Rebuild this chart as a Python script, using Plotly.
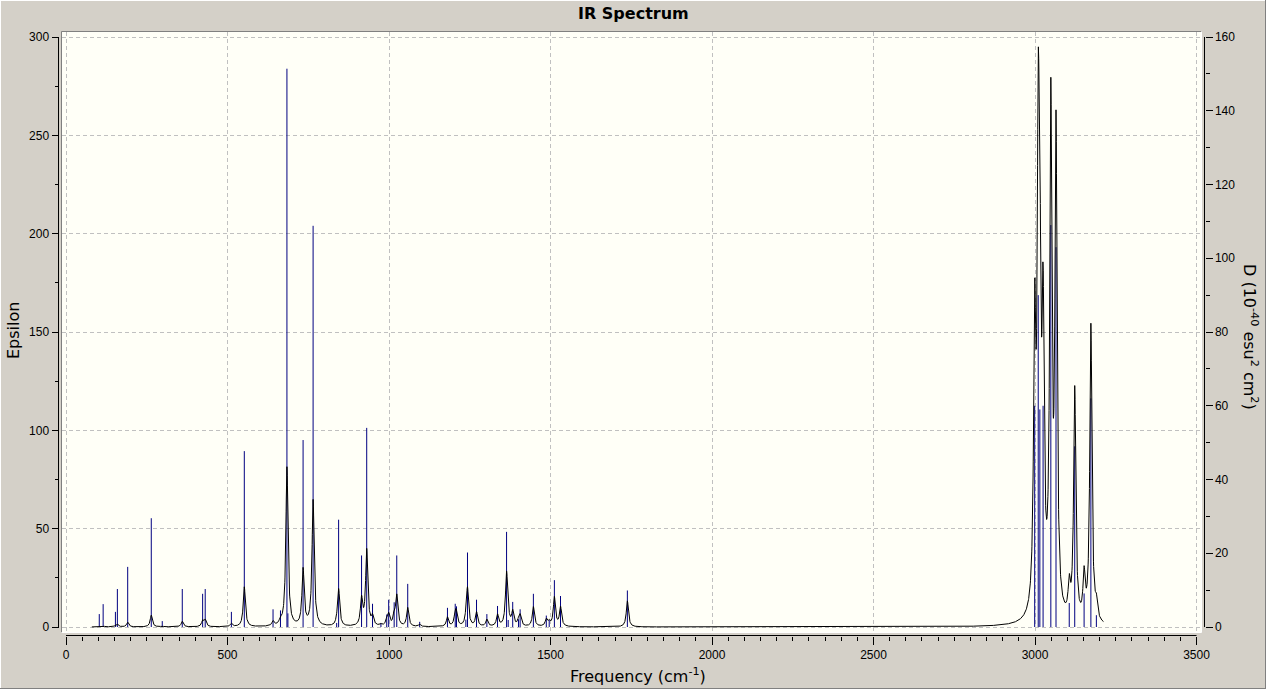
import numpy as np
import plotly.graph_objects as go

# ---------------- data ----------------
# stick spectrum: frequency (cm^-1) and dipole strength D (10^-40 esu^2 cm^2)
freqs = [103, 115, 153, 159, 191, 264, 298, 360, 423, 431, 512, 552,
         641, 664, 684, 687, 734, 765, 838, 844, 915, 931, 949, 975,
         993, 999, 1016, 1024, 1058, 1095, 1181, 1205, 1209, 1238, 1243, 1271,
         1303, 1336, 1364, 1369, 1383, 1401, 1406, 1447, 1487, 1496, 1512, 1531,
         1738,
         2999, 3010, 3015, 3025, 3049, 3065, 3106, 3123, 3152, 3173, 3190]
dipole = [3.5, 6.2, 4.1, 10.3, 16.3, 29.5, 1.6, 10.3, 9.0, 10.3, 4.1, 47.7,
          4.8, 4.5, 151.4, 3.7, 50.7, 108.8, 1.1, 29.1, 19.4, 54.0, 6.3, 1.1,
          3.4, 7.4, 6.7, 19.4, 11.7, 1.4, 5.2, 6.3, 5.6, 2.0, 20.2, 7.4,
          3.5, 5.7, 25.8, 1.9, 6.8, 2.1, 4.8, 9.0, 3.1, 1.9, 12.7, 8.4,
          9.9,
          60.0, 90.0, 59.0, 60.0, 109.0, 103.0, 6.5, 49.0, 9.1, 62.0, 3.2]

# Epsilon curve = Lorentzian broadening of the sticks (as the spectrum program draws it)
half_width = 4.0          # cm^-1, half width at half height
eps_per_nuD = 7.7e-4      # epsilon per (frequency * D)
curve_start, curve_end = 80.0, 3212.0

x_ticks = [0, 500, 1000, 1500, 2000, 2500, 3000, 3500]
eps_ticks = [0, 50, 100, 150, 200, 250, 300]
d_ticks = [0, 20, 40, 60, 80, 100, 120, 140, 160]

# ---------------- derived ----------------
nu = np.arange(curve_start, curve_end + 0.25, 0.5)
f_arr = np.array(freqs)
d_arr = np.array(dipole)
eps = (eps_per_nuD * f_arr * d_arr *
       half_width**2 / ((nu[:, None] - f_arr[None, :])**2 + half_width**2)).sum(axis=1)

stick_x, stick_y = [], []
for f, d in zip(freqs, dipole):
    stick_x += [f, f, None]
    stick_y += [0, d, None]

# ---------------- layout geometry (pixels) ----------------
W, H = 1266, 689
plot_l, plot_r, plot_t, plot_b = 62, 1201, 32, 632
x_zero_px, x_3500_px = 66.0, 1196.5
y_zero_px, y_300_px = 627.0, 37.0
kx = (x_3500_px - x_zero_px) / 3500.0
ky = (y_zero_px - y_300_px) / 300.0
xr = [(plot_l - x_zero_px) / kx, (plot_r - x_zero_px) / kx]
er = [(y_zero_px - plot_b) / ky, (y_zero_px - plot_t) / ky]
dr = [v * 160.0 / 300.0 for v in er]

def px(p):
    return p / W

def py(p):
    return (H - p) / H

TICKFONT = "Liberation Sans, Arial, sans-serif"
TITLEFONT = "DejaVu Sans, Verdana, sans-serif"
GRID = "#c0c0c0"

fig = go.Figure()
fig.add_trace(go.Scatter(x=stick_x, y=stick_y, mode="lines",
                         line=dict(color="#000080", width=1),
                         xaxis="x", yaxis="y", hoverinfo="skip", showlegend=False))
fig.add_trace(go.Scatter(x=nu, y=eps, mode="lines",
                         line=dict(color="black", width=1),
                         xaxis="x", yaxis="y2", hoverinfo="skip", showlegend=False))

fig.update_layout(
    width=W, height=H, autosize=False,
    margin=dict(l=0, r=0, t=0, b=0, pad=0),
    paper_bgcolor="#d4d0c8", plot_bgcolor="#fffff7",
    font=dict(family=TICKFONT, size=12, color="black"),
    showlegend=False,
    xaxis=dict(domain=[px(plot_l), px(plot_r)], range=xr, anchor="free",
               position=py(635.5), showline=False, zeroline=False, automargin=False,
               tickmode="array", tickvals=x_ticks, ticks="outside",
               ticklen=8, tickwidth=1, tickcolor="black",
               minor=dict(dtick=50, tick0=0, ticks="outside", ticklen=4,
                          tickwidth=1, tickcolor="black", showgrid=False),
               showgrid=True, gridcolor=GRID, griddash="4px,3px", gridwidth=1,
               tickfont=dict(size=12, family=TICKFONT)),
    yaxis=dict(domain=[py(plot_b), py(plot_t)], range=dr, anchor="free",
               position=px(1204.5), side="right", showline=False, zeroline=False,
               automargin=False,
               tickmode="array", tickvals=d_ticks, ticks="outside",
               ticklen=7, tickwidth=1, tickcolor="black",
               minor=dict(dtick=10, tick0=0, ticks="outside", ticklen=4,
                          tickwidth=1, tickcolor="black", showgrid=False),
               showgrid=False, tickfont=dict(size=12, family=TICKFONT)),
    yaxis2=dict(range=er, overlaying="y", anchor="free", position=px(58.5),
                side="left", showline=False, zeroline=False, automargin=False,
                tickmode="array", tickvals=eps_ticks, ticks="outside",
                ticklen=7, tickwidth=1, tickcolor="black",
                minor=dict(dtick=25, tick0=0, ticks="outside", ticklen=4,
                           tickwidth=1, tickcolor="black", showgrid=False),
                showgrid=True, gridcolor=GRID, griddash="4px,3px", gridwidth=1,
                tickfont=dict(size=12, family=TICKFONT)),
)

shapes = [
    # plot-area sunken border
    dict(type="line", xref="paper", yref="paper", x0=px(plot_l - 0.5), x1=px(plot_r + 0.5),
         y0=py(plot_t - 0.5), y1=py(plot_t - 0.5), line=dict(color="#808080", width=1)),
    dict(type="line", xref="paper", yref="paper", x0=px(plot_l - 0.5), x1=px(plot_l - 0.5),
         y0=py(plot_t - 0.5), y1=py(plot_b + 0.5), line=dict(color="#808080", width=1)),
    dict(type="line", xref="paper", yref="paper", x0=px(plot_r + 0.5), x1=px(plot_r + 0.5),
         y0=py(plot_t - 0.5), y1=py(plot_b + 0.5), line=dict(color="#ffffff", width=1)),
    dict(type="line", xref="paper", yref="paper", x0=px(plot_l - 0.5), x1=px(plot_r + 0.5),
         y0=py(plot_b + 0.5), y1=py(plot_b + 0.5), line=dict(color="#ffffff", width=1)),
    # axis lines spanning the tick range only
    dict(type="line", xref="paper", yref="y2", x0=px(58.5), x1=px(58.5),
         y0=0, y1=300, line=dict(color="black", width=1)),
    dict(type="line", xref="paper", yref="y", x0=px(1204.5), x1=px(1204.5),
         y0=0, y1=160, line=dict(color="black", width=1)),
    dict(type="line", xref="x", yref="paper", x0=0, x1=3500,
         y0=py(635.5), y1=py(635.5), line=dict(color="black", width=1)),
    # window frame
    dict(type="line", xref="paper", yref="paper", x0=0, x1=1, y0=py(0.5), y1=py(0.5),
         line=dict(color="#ffffff", width=1)),
    dict(type="line", xref="paper", yref="paper", x0=px(0.5), x1=px(0.5), y0=0, y1=1,
         line=dict(color="#ffffff", width=1)),
    dict(type="line", xref="paper", yref="paper", x0=px(W - 0.5), x1=px(W - 0.5), y0=0, y1=1,
         line=dict(color="#808080", width=1)),
    dict(type="line", xref="paper", yref="paper", x0=0, x1=1, y0=py(H - 0.5), y1=py(H - 0.5),
         line=dict(color="#808080", width=1)),
]
fig.update_layout(shapes=shapes)

annotations = [
    dict(text="<b>IR Spectrum</b>", x=px(633), y=py(14), xref="paper", yref="paper",
         showarrow=False, xanchor="center", yanchor="middle",
         font=dict(size=16, family=TITLEFONT, color="black")),
    dict(text="Frequency (cm<sup>-1</sup>)", x=px(638), y=py(675), xref="paper", yref="paper",
         showarrow=False, xanchor="center", yanchor="middle",
         font=dict(size=16, family=TITLEFONT, color="black")),
    dict(text="Epsilon", x=px(13), y=py(331), xref="paper", yref="paper",
         showarrow=False, xanchor="center", yanchor="middle", textangle=-90,
         font=dict(size=16, family=TITLEFONT, color="black")),
    dict(text="D (10<sup>-40</sup> esu<sup>2</sup> cm<sup>2</sup>)", x=px(1251), y=py(337),
         xref="paper", yref="paper", showarrow=False, xanchor="center", yanchor="middle",
         textangle=90, font=dict(size=16, family=TITLEFONT, color="black")),
]
fig.update_layout(annotations=annotations)

fig.write_html("out.html", include_plotlyjs=True, full_html=True,
               default_width="1266px", default_height="689px",
               config={"responsive": False, "displayModeBar": False},
               post_script="document.body.style.margin='0';document.body.style.overflow='hidden';")
